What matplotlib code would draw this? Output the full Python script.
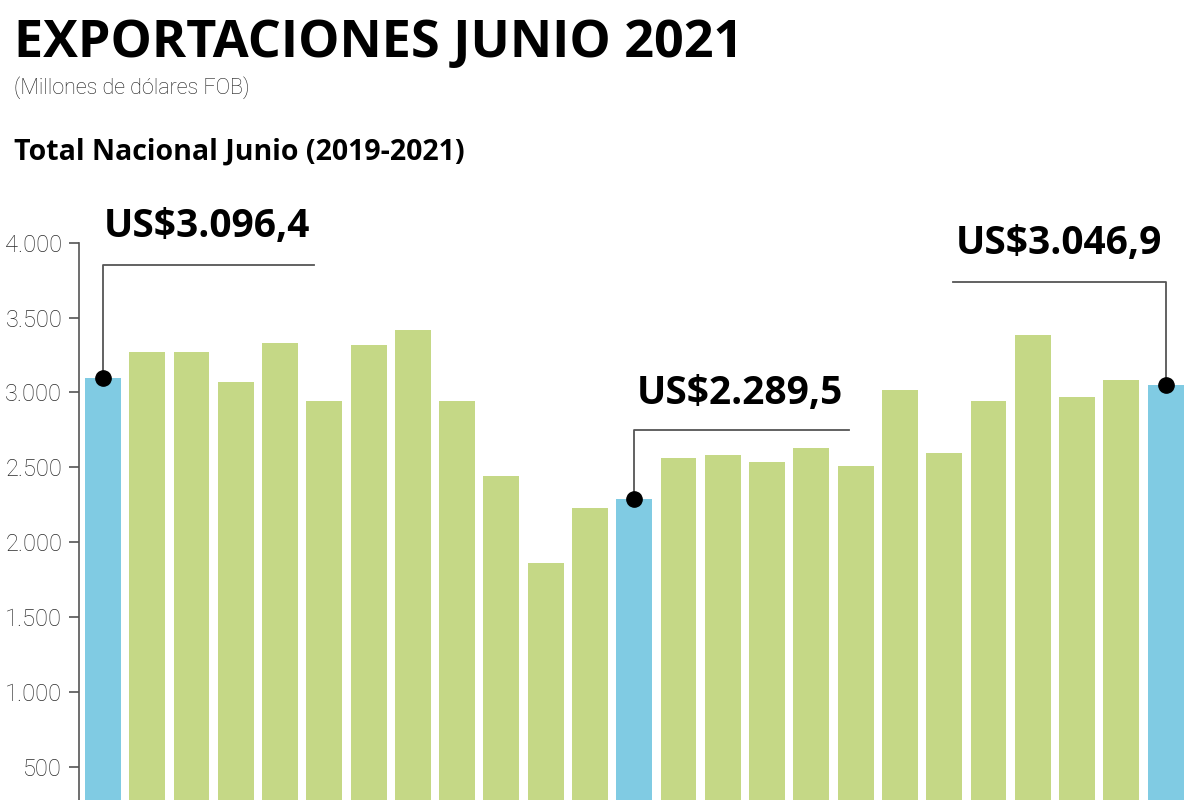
import matplotlib
matplotlib.use("Agg")
import matplotlib.pyplot as plt
import numpy as np

# monthly totals, June 2019 .. June 2021 (millions USD FOB)
months = ["jun-19", "jul-19", "ago-19", "sep-19", "oct-19", "nov-19", "dic-19",
          "ene-20", "feb-20", "mar-20", "abr-20", "may-20", "jun-20",
          "jul-20", "ago-20", "sep-20", "oct-20", "nov-20", "dic-20",
          "ene-21", "feb-21", "mar-21", "abr-21", "may-21", "jun-21"]
values = [3096.4, 3267, 3267, 3073, 3327, 2940, 3320,
          3416, 2946, 2439, 1858, 2225, 2289.5,
          2559, 2579, 2534, 2628, 2508, 3015,
          2593, 2940, 3381, 2967, 3080, 3046.9]
highlight = [0, 12, 24]
callouts = ["US$3.096,4", "US$2.289,5", "US$3.046,9"]
yticks = [500, 1000, 1500, 2000, 2500, 3000, 3500, 4000]
ytick_labels = ["500", "1.000", "1.500", "2.000", "2.500", "3.000", "3.500", "4.000"]

green = "#c5d886"
blue = "#80cbe3"
light = ["Roboto", "DejaVu Sans"]
bold = ["Open Sans", "DejaVu Sans"]

fig = plt.figure(figsize=(12, 8), dpi=100)
ax = fig.add_axes([0.0658, 0.0, 0.934, 0.6966])

x = np.arange(len(values))
colors = [blue if i in highlight else green for i in x]
ax.bar(x, values, width=0.81, color=colors, zorder=2)

ax.set_ylim(278, 4000)
ax.set_xlim(-0.54, 24.77)
ax.set_yticks(yticks)
ax.set_yticklabels(ytick_labels, fontfamily=light, fontweight="light", fontsize=17, color="#2a2a2a")
ax.set_xticks([])
for s in ["top", "right", "bottom"]:
    ax.spines[s].set_visible(False)
ax.spines["left"].set_color("#555555")
ax.spines["left"].set_linewidth(1.2)
ax.tick_params(axis="y", length=7, width=1.2, color="#555555", pad=5)

# callouts: (line height, horizontal end, text x, text y)
specs = [(3852, 4.76, 0.03, 4110), (2749, 16.86, 12.05, 2995), (3739, 19.19, 19.27, 3995)]
for idx, label, (ly, hx, tx, ty) in zip(highlight, callouts, specs):
    v = values[idx]
    ax.plot([idx, idx, hx], [v, ly, ly], color="#555555", lw=1.3, clip_on=False, zorder=3)
    ax.plot(idx, v, "o", color="black", ms=11, clip_on=False, zorder=4)
    ax.text(tx, ty, label, fontsize=28, fontweight="bold", fontfamily=bold,
            ha="left", va="center", clip_on=False)

fig.text(0.012, 0.945, "EXPORTACIONES JUNIO 2021", fontsize=37.5, fontweight="bold",
         fontfamily=bold, va="center", ha="left")
fig.text(0.012, 0.89, "(Millones de dólares FOB)", fontsize=15.5, fontfamily=light,
         fontweight="light", color="#1a1a1a", va="center", ha="left")
fig.text(0.012, 0.81, "Total Nacional Junio (2019-2021)", fontsize=20.5, fontweight="bold",
         fontfamily=bold, va="center", ha="left")

fig.savefig("out.png", dpi=100)
